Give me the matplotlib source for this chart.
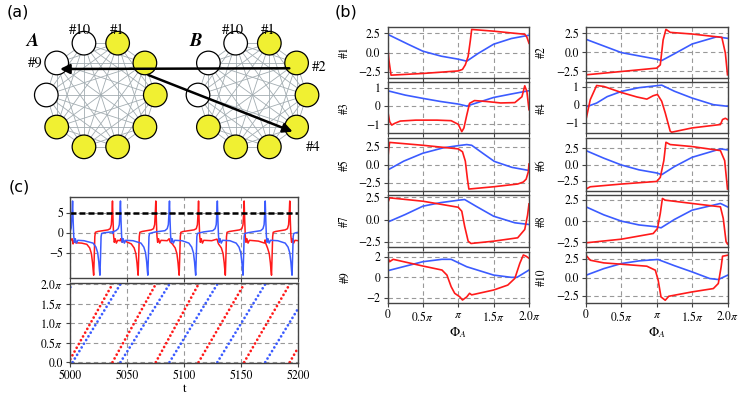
import numpy as np
import matplotlib
matplotlib.use('Agg')
import matplotlib.pyplot as plt
from matplotlib.patches import Circle

plt.rcParams['font.family'] = 'STIXGeneral'
plt.rcParams['mathtext.fontset'] = 'stix'
plt.rcParams['axes.edgecolor'] = '#444444'
plt.rcParams['axes.linewidth'] = 1.0
plt.rcParams['xtick.color'] = '#444444'
plt.rcParams['ytick.color'] = '#444444'
plt.rcParams['xtick.labelcolor'] = 'black'
plt.rcParams['ytick.labelcolor'] = 'black'

ROJO = '#ff1a1a'
AZUL = '#3b5bff'

# ---------------- datos panel (b): (phi/pi, valor) ----------------
n1_red = [(0, 1.2), (0.02, -1.0), (0.05, -2.95), (0.5, -2.73), (1.0, -2.4), (1.06, -2.2), (1.1, -1.6),
          (1.14, -0.5), (1.17, 1.5), (1.19, 3.0), (1.5, 2.78), (1.8, 2.5), (1.94, 2.38), (1.97, 2.0), (2.0, 1.2)]
n1_blue = [(0, 2.38), (0.29, 1.08), (0.5, 0.17), (0.76, -0.48), (1.0, -0.87), (1.12, -1.13), (1.28, -0.13),
           (1.5, 1.08), (1.75, 1.82), (2.0, 2.25)]
n2_red = [(0, -2.99), (0.5, -2.55), (1.0, -2.1), (1.05, -1.67), (1.09, 1.62), (1.13, 3.03), (1.19, 2.63),
          (1.5, 2.41), (1.92, 1.97), (1.97, -0.13), (2.0, -2.99)]
n2_blue = [(0, 1.71), (0.25, 0.83), (0.5, -0.05), (1.0, -0.92), (1.07, -1.1), (1.25, -0.2), (1.5, 1.09),
           (1.85, 2.05), (2.0, 1.84)]
n3_red = [(0, -0.2), (0.03, -0.85), (0.06, -1.04), (0.1, -0.95), (0.18, -0.82), (0.4, -0.77), (0.7, -0.77),
          (0.9, -0.8), (1.0, -1.0), (1.05, -1.4), (1.08, -1.2), (1.12, -0.5), (1.16, 0.15), (1.23, 0.3),
          (1.4, 0.25), (1.6, 0.17), (1.8, 0.19), (1.9, 0.51), (1.94, 1.11), (1.97, 0.8), (2.0, -0.2)]
n3_blue = [(0, 0.84), (0.25, 0.6), (0.5, 0.42), (0.75, 0.25), (1.0, 0.11), (1.12, 0.0), (1.5, 0.47),
           (1.75, 0.66), (2.0, 0.84)]
n4_red = [(0, -0.83), (0.06, 0.28), (0.15, 1.07), (0.25, 1.02), (0.5, 0.68), (0.72, 0.43), (0.86, 0.31),
          (0.95, 0.5), (1.01, 0.57), (1.07, 0.19), (1.12, -0.46), (1.19, -1.48), (1.21, -1.54), (1.5, -1.3),
          (1.9, -1.11), (1.93, -0.83), (1.97, -0.76), (2.0, -0.83)]
n4_blue = [(0, -0.13), (0.15, 0.09), (0.3, 0.45), (0.5, 0.74), (0.75, 0.95), (1.0, 1.06), (1.07, 1.09),
           (1.25, 0.75), (1.5, 0.37), (1.8, 0.0), (2.0, -0.09)]
n5_red = [(0, 0.0), (0.015, 2.0), (0.03, 3.1), (0.5, 2.7), (1.0, 2.2), (1.06, 1.8), (1.1, 0.5), (1.13, -2.0),
          (1.15, -3.38), (1.5, -3.06), (1.84, -2.68), (1.92, -2.4), (1.96, -2.0), (1.99, -1.0), (2.0, 0.1)]
n5_blue = [(0, -0.75), (0.23, 0.5), (0.5, 1.6), (0.79, 2.35), (1.0, 2.65), (1.12, 2.8), (1.19, 2.7),
           (1.36, 1.5), (1.51, 0.46), (1.76, -0.37), (2.0, -0.8)]
n6_red = [(0, -3.75), (0.06, -3.4), (0.5, -2.98), (1.0, -2.58), (1.05, -1.96), (1.1, 0.62), (1.13, 3.44),
          (1.19, 3.09), (1.5, 2.78), (1.9, 2.16), (1.96, 0.62), (2.0, -3.75)]
n6_blue = [(0, 2.16), (0.25, 1.0), (0.5, -0.05), (0.75, -0.8), (1.0, -1.28), (1.07, -1.54), (1.25, -0.3),
           (1.5, 1.13), (1.9, 2.42), (2.0, 2.27)]
n7_red = [(0, 1.76), (0.03, 2.44), (0.5, 2.06), (1.0, 1.38), (1.05, 0.93), (1.09, -0.75), (1.14, -2.44),
          (1.18, -2.7), (1.5, -2.44), (1.84, -2.06), (1.94, -1.12), (1.98, 0.5), (2.0, 1.76)]
n7_blue = [(0, -0.3), (0.25, 0.56), (0.5, 1.5), (0.75, 1.9), (1.0, 2.17), (1.09, 2.25), (1.25, 1.5),
           (1.5, 0.37), (1.8, -0.37), (2.0, -0.56)]
n8_red = [(0, -2.56), (0.5, -2.13), (0.95, -1.46), (1.01, -0.87), (1.05, 0.91), (1.08, 2.68), (1.12, 2.48),
          (1.5, 2.09), (1.9, 1.69), (1.94, 0.32), (1.98, -2.44), (2.0, -2.7)]
n8_blue = [(0, 1.69), (0.25, 0.75), (0.5, 0.0), (0.75, -0.45), (1.0, -0.67), (1.06, -0.79), (1.25, 0.2),
           (1.5, 1.3), (1.9, 2.09), (2.0, 1.69)]
n9_red = [(0, 2.0), (0.03, 1.52), (0.08, 1.75), (0.5, 1.1), (0.77, 0.71), (0.84, 0.22), (0.9, -0.91),
          (0.95, -1.55), (1.02, -1.88), (1.06, -2.2), (1.12, -1.9), (1.16, -1.55), (1.19, -1.7), (1.5, -1.23),
          (1.7, -0.75), (1.8, -0.1), (1.87, 1.36), (1.92, 2.17), (1.96, 2.05), (2.0, 1.85)]
n9_blue = [(0, 0.64), (0.5, 1.52), (0.77, 1.75), (0.9, 1.75), (1.12, 1.03), (1.5, 0.22), (1.75, 0.0),
           (1.83, 0.0), (2.0, 0.71)]
n10_red = [(0, 3.01), (0.06, 2.34), (0.25, 1.98), (0.5, 1.8), (0.86, 1.53), (0.98, 0.99), (1.02, -0.36),
           (1.06, -2.62), (1.12, -3.07), (1.17, -2.53), (1.5, -1.94), (1.8, -1.49), (1.87, -0.81),
           (1.91, 1.43), (1.93, 2.88), (2.0, 3.01)]
n10_blue = [(0, 0.31), (0.25, 1.2), (0.5, 1.89), (0.75, 2.25), (1.0, 2.43), (1.02, 2.43), (1.25, 1.6),
            (1.5, 0.76), (1.75, -0.14), (1.87, -0.27), (2.0, 0.31)]

nodos_b = ['#1', '#2', '#3', '#4', '#5', '#6', '#7', '#8', '#9', '#10']
curvas_b = [(n1_red, n1_blue), (n2_red, n2_blue), (n3_red, n3_blue), (n4_red, n4_blue), (n5_red, n5_blue),
            (n6_red, n6_blue), (n7_red, n7_blue), (n8_red, n8_blue), (n9_red, n9_blue), (n10_red, n10_blue)]
limites_b = [(-3.36, 3.36), (-3.45, 3.38), (-1.49, 1.3), (-1.6, 1.25), (-3.65, 3.67),
             (-4.05, 4.05), (-3.13, 2.76), (-3.09, 3.09), (-2.46, 2.49), (-3.4, 3.49)]
ticks_b = [[-2.5, 0, 2.5], [-2.5, 0, 2.5], [-1, 0, 1], [-1, 0, 1], [-2.5, 0, 2.5],
           [-2.5, 0, 2.5], [-2.5, 0, 2.5], [-2.5, 0, 2.5], [-2, 0, 2], [-2.5, 0, 2.5]]

# ---------------- datos panel (c) ----------------
red_trace = [(5000, -2.0), (5001.6, -1.5), (5002.4, -2.8), (5003.2, -2.0), (5004.5, -2.5), (5010, -2.6),
             (5014.5, -2.9), (5017, -3.8), (5018.5, -5.2), (5019.5, -7.5), (5020.1, -9.5), (5020.5, -10.6),
             (5021, -6.0), (5021.5, -1.0), (5022, 0.1), (5024, 0.3), (5033, 0.7), (5035, 1.0), (5036, 2.0),
             (5036.5, 4.5), (5037, 7.9),
             (5037.5, 3.0), (5038, -0.8), (5038.6, -2.4), (5039.4, -1.5), (5040.4, -2.6), (5041.6, -1.9),
             (5043.5, -2.0), (5044.3, -1.5), (5045, -2.3), (5048, -2.1), (5053.5, -2.8), (5056, -3.8),
             (5057.5, -5.2), (5058.5, -7.5), (5059.1, -9.5), (5059.5, -10.6), (5060, -6.0), (5060.5, -1.0),
             (5061, 0.1), (5063, 0.3), (5071, 0.7), (5073, 1.0), (5074, 2.0), (5074.5, 4.5), (5075, 7.9),
             (5075.5, 3.0), (5076, -0.8), (5076.6, -2.4), (5077.4, -1.5), (5078.4, -2.6), (5079.6, -1.9),
             (5085, -2.0), (5086.7, -1.5), (5087.5, -2.3), (5089.5, -2.8), (5092, -3.8), (5093.5, -5.2),
             (5094.5, -7.5), (5095.1, -9.5), (5095.5, -10.6), (5096, -6.0), (5096.5, -1.0), (5097, 0.1),
             (5099, 0.3), (5108.5, 0.7), (5110.5, 1.0), (5111.5, 2.0), (5112, 4.5), (5112.5, 7.9),
             (5113, 3.0), (5113.5, -0.8), (5114.1, -2.4), (5114.9, -1.5), (5115.9, -2.6), (5117.1, -1.9),
             (5124, -2.0), (5128.7, -1.6), (5129.5, -2.4), (5130, -2.8), (5132.5, -3.8), (5134, -5.2),
             (5135, -7.5), (5135.6, -9.5), (5136, -10.6), (5136.5, -6.0), (5137, -1.0), (5137.5, 0.1),
             (5139.5, 0.3), (5148.5, 0.7), (5150.5, 1.0), (5151.5, 2.0), (5152, 4.5), (5152.5, 7.9),
             (5153, 3.0), (5153.5, -0.8), (5154.1, -2.4), (5154.9, -1.5), (5155.9, -2.6), (5157.1, -1.9),
             (5165, -2.1), (5170.5, -2.6), (5170.9, -1.8), (5171.6, -2.8), (5173, -3.8), (5174.5, -5.2),
             (5175.5, -7.5), (5176.1, -9.5), (5176.5, -10.6), (5177, -6.0), (5177.5, -1.0), (5178, 0.1),
             (5180, 0.3), (5188.5, 0.7), (5190.5, 1.0), (5191.5, 2.0), (5192, 4.5), (5192.5, 7.9),
             (5193, 3.0), (5193.5, -0.8), (5194.1, -2.4), (5194.9, -1.5), (5195.9, -2.6), (5197.1, -1.9),
             (5200, -2.0)]

blue_trace = [(5000, 0.5), (5000.8, 1.2), (5001.3, 3.5), (5002, 7.9), (5002.5, 3.0), (5003, -0.8),
              (5003.6, -2.4), (5004.4, -1.5), (5005.4, -2.6), (5006.6, -1.9), (5012, -2.0), (5020, -2.6),
              (5022.5, -3.6), (5024, -5.0), (5025, -7.3), (5025.6, -9.5), (5026, -10.6), (5026.5, -6.0),
              (5027, -1.0), (5027.5, -0.2), (5030, 0.0), (5036.8, 0.2), (5037.3, -0.2), (5038, 0.3),
              (5040, 0.5), (5042, 1.0), (5043, 2.0), (5043.5, 4.5), (5044, 7.9),
              (5044.5, 3.0), (5045, -0.8), (5045.6, -2.4), (5046.4, -1.5), (5047.4, -2.6), (5048.6, -1.9),
              (5055, -2.0), (5062, -2.6), (5064.5, -3.6), (5066, -5.0), (5067, -7.3), (5067.6, -9.5),
              (5068, -10.6), (5068.5, -6.0), (5069, -1.0), (5069.5, -0.2), (5072, 0.0), (5075, 0.2),
              (5083, 0.5), (5085, 1.0), (5086, 2.0), (5086.5, 4.5), (5087, 7.9),
              (5087.5, 3.0), (5088, -0.8), (5088.6, -2.4), (5089.4, -1.5), (5090.4, -2.6), (5091.6, -1.9),
              (5098, -2.0), (5104, -2.6), (5106.5, -3.6), (5108, -5.0), (5109, -7.3), (5109.6, -9.5),
              (5110, -10.6), (5110.5, -6.0), (5111, -1.0), (5111.5, -0.2), (5114, 0.0), (5117, 0.2),
              (5125, 0.5), (5127, 1.0), (5128, 2.0), (5128.5, 4.5), (5129, 7.9),
              (5129.5, 3.0), (5130, -0.8), (5130.6, -2.4), (5131.4, -1.5), (5132.4, -2.6), (5133.6, -1.9),
              (5140, -2.0), (5145.5, -2.6), (5148, -3.6), (5149.5, -5.0), (5150.5, -7.3), (5151.1, -9.5),
              (5151.5, -10.6), (5152, -6.0), (5152.5, -1.0), (5153, -0.2), (5156, 0.0), (5160, 0.2),
              (5167, 0.5), (5169, 1.0), (5170, 2.0), (5170.5, 4.5), (5171, 7.9),
              (5171.5, 3.0), (5172, -0.8), (5172.6, -2.4), (5173.4, -1.5), (5174.4, -2.6), (5175.6, -1.9),
              (5182, -2.0), (5188.5, -2.6), (5191, -3.6), (5192.5, -5.0), (5193.5, -7.3), (5194.1, -9.5),
              (5194.5, -10.6), (5195, -6.0), (5195.5, -1.0), (5196, -0.2), (5198, 0.0), (5200, 0.1)]

# rampas de fase (t0, fase0/pi, t1, fase1/pi)
red_ramps = [(5000, 0.08, 5037, 2.0), (5037, 0.0, 5075, 2.0), (5075, 0.0, 5112.5, 2.0),
             (5112.5, 0.0, 5152.5, 2.0), (5152.5, 0.0, 5192.5, 2.0), (5192.5, 0.0, 5200, 0.38)]
blue_ramps = [(5000, 1.92, 5001.5, 2.0), (5002, 0.0, 5044, 2.0), (5044, 0.0, 5087, 2.0),
              (5087, 0.0, 5129, 2.0), (5129, 0.0, 5171, 2.0), (5171, 0.0, 5200, 1.38)]

# ---------------- figura ----------------
W, H = 747, 408
fig = plt.figure(figsize=(W / 100, H / 100), dpi=100)


def ejes_px(x0, y0, x1, y1):
    return fig.add_axes([x0 / W, 1 - y1 / H, (x1 - x0) / W, (y1 - y0) / H])


def rejilla(ax):
    ax.grid(True, color='#999999', lw=0.8, dashes=(4, 3))
    ax.set_axisbelow(True)


# ---------------- panel (a) ----------------
ax_a = ejes_px(0, 0, 335, 175)
ax_a.set_xlim(0, 335)
ax_a.set_ylim(175, 0)
ax_a.axis('off')

blancos = [8, 9, 10]
for cx in [100.8, 252.5]:
    cy, r = 95.0, 54.5
    pos = []
    for k in range(1, 11):
        ang = np.deg2rad(72 - 36 * (k - 1))
        pos.append((cx + r * np.cos(ang), cy - r * np.sin(ang)))
    for i in range(10):
        for j in range(i + 1, 10):
            ax_a.plot([pos[i][0], pos[j][0]], [pos[i][1], pos[j][1]], color='#a3adb2', lw=0.6, zorder=1)
    for k, (x, y) in enumerate(pos, start=1):
        fc = 'white' if k in blancos else '#f0f032'
        ax_a.add_patch(Circle((x, y), 11.8, fc=fc, ec='black', lw=0.9, zorder=2))

flecha = dict(arrowstyle='-|>', color='black', lw=1.8, mutation_scale=14, shrinkA=0, shrinkB=0)
ax_a.annotate('', xy=(60, 69), xytext=(289.3, 68.3), arrowprops=flecha, zorder=4)
ax_a.annotate('', xy=(292.7, 131.7), xytext=(148.3, 75), arrowprops=flecha, zorder=4)

ax_a.text(33, 41, 'A', fontsize=13.5, style='italic', weight='bold', ha='center', va='center')
ax_a.text(196, 41, 'B', fontsize=13.5, style='italic', weight='bold', ha='center', va='center')
for x, y, s in [(80, 30, '#10'), (117, 30, '#1'), (233, 30, '#10'), (268, 30, '#1'),
                (35, 63, '#9'), (319, 67, '#2'), (313, 147, '#4')]:
    ax_a.text(x, y, s, fontsize=10.5, ha='center', va='center')

# ---------------- panel (b) ----------------
tops = [26.7, 82.3, 138.3, 195.0, 251.7]
bottoms = [78.3, 133.3, 191.0, 247.3, 302.7]
columnas = [(387.5, 529.0), (586.0, 727.5)]

for idx in range(10):
    fila, col = idx // 2, idx % 2
    x0, x1 = columnas[col]
    ax = ejes_px(x0, tops[fila], x1, bottoms[fila])
    rojo, azul = curvas_b[idx]
    ax.plot(*zip(*azul), color=AZUL, lw=1.2)
    ax.plot(*zip(*rojo), color=ROJO, lw=1.2)
    ax.set_xlim(0, 2)
    ax.set_ylim(*limites_b[idx])
    ax.set_yticks(ticks_b[idx])
    ax.set_xticks([0, 0.5, 1, 1.5, 2])
    ax.tick_params(labelsize=8.5, length=3, width=0.8, pad=2)
    rejilla(ax)
    ax.set_ylabel(nodos_b[idx], fontsize=8.5)
    ax.yaxis.set_label_coords(-0.255 if col == 0 else -0.27, 0.5)
    if fila == 4:
        ax.set_xticklabels(['0', r'$0.5\pi$', r'$\pi$', r'$1.5\pi$', r'$2.0\pi$'])
        ax.set_xlabel(r'$\Phi_A$', fontsize=9.5, labelpad=1)
    else:
        ax.tick_params(labelbottom=False)

# ---------------- panel (c) ----------------
ax_v = ejes_px(70.3, 197, 298.3, 278)
ax_v.plot(*zip(*red_trace), color=ROJO, lw=1.1)
ax_v.plot(*zip(*blue_trace), color=AZUL, lw=1.1)
ax_v.axhline(5, color='black', lw=1.8, dashes=(2.4, 1.2))
ax_v.set_xlim(5000, 5200)
ax_v.set_ylim(-11.3, 8.9)
ax_v.set_yticks([-5, 0, 5])
ax_v.set_xticks([5000, 5050, 5100, 5150, 5200])
ax_v.tick_params(labelsize=8.5, length=3, width=0.8, pad=2, labelbottom=False)
rejilla(ax_v)

ax_p = ejes_px(70.3, 283.3, 298.3, 363)
for t0, p0, t1, p1 in red_ramps:
    ax_p.plot([t0, t1], [p0, p1], color=ROJO, lw=2.0, linestyle=(0, (0.01, 1.55)),
              dash_capstyle='round')
for t0, p0, t1, p1 in blue_ramps:
    ax_p.plot([t0, t1], [p0, p1], color=AZUL, lw=2.0, linestyle=(0, (0.01, 1.55)),
              dash_capstyle='round')
ax_p.set_xlim(5000, 5200)
ax_p.set_ylim(-0.02, 2.02)
ax_p.set_xticks([5000, 5050, 5100, 5150, 5200])
ax_p.set_yticks([0, 0.5, 1, 1.5, 2])
ax_p.set_yticklabels(['0.0', r'$0.5\pi$', r'$1.0\pi$', r'$1.5\pi$', r'$2.0\pi$'])
ax_p.tick_params(labelsize=8.5, length=3, width=0.8, pad=2)
ax_p.set_xlabel('t', fontsize=9.5, labelpad=1)
rejilla(ax_p)

# etiquetas de panel
for x, y, s in [(18, 12, '(a)'), (346, 12, '(b)'), (19, 187, '(c)')]:
    fig.text(x / W, 1 - y / H, s, fontsize=11.5, family='DejaVu Sans', ha='center', va='center')

fig.savefig('out.png', dpi=100)
